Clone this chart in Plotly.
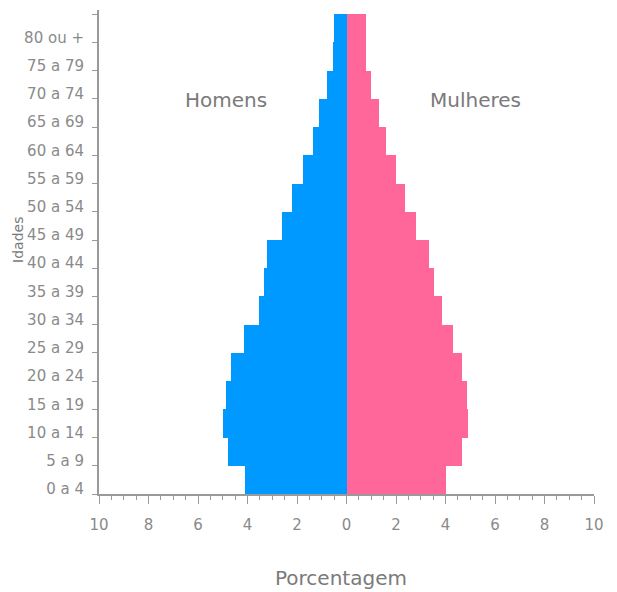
import plotly.graph_objects as go

age_groups = ["0 a 4", "5 a 9", "10 a 14", "15 a 19", "20 a 24", "25 a 29", "30 a 34",
              "35 a 39", "40 a 44", "45 a 49", "50 a 54", "55 a 59", "60 a 64",
              "65 a 69", "70 a 74", "75 a 79", "80 ou +"]
homens = [4.1, 4.8, 5.0, 4.85, 4.65, 4.15, 3.55, 3.35, 3.2, 2.6, 2.2, 1.75, 1.35, 1.1, 0.8, 0.55, 0.5]
mulheres = [4.0, 4.65, 4.9, 4.85, 4.65, 4.3, 3.85, 3.55, 3.35, 2.8, 2.35, 2.0, 1.6, 1.3, 1.0, 0.8, 0.8]
x_tick_values = [-10, -8, -6, -4, -2, 0, 2, 4, 6, 8, 10]
x_tick_labels = ["10", "8", "6", "4", "2", "0", "2", "4", "6", "8", "10"]

pos = [i + 0.5 for i in range(len(age_groups))]
label_pos = [i + 0.18 for i in range(len(age_groups))]

FONT = "DejaVu Sans"
GRAY = "#8a8a8a"
AXIS = "#9a9a9a"

fig = go.Figure()
fig.add_trace(go.Bar(y=pos, x=[-v for v in homens], orientation="h", width=1,
                     marker=dict(color="#0099ff", line=dict(width=0)), name="Homens"))
fig.add_trace(go.Bar(y=pos, x=mulheres, orientation="h", width=1,
                     marker=dict(color="#ff6699", line=dict(width=0)), name="Mulheres"))

fig.update_layout(
    width=617, height=592,
    margin=dict(l=91, r=31, t=2, b=106),
    paper_bgcolor="white", plot_bgcolor="white",
    barmode="overlay", bargap=0, showlegend=False,
    font=dict(family=FONT, color=GRAY),
    xaxis=dict(range=[-10, 10], tickmode="array", tickvals=x_tick_values, ticktext=x_tick_labels,
               ticks="outside", ticklen=8, tickcolor=AXIS, tickwidth=1,
               showline=True, linecolor=AXIS, linewidth=2, showgrid=False, zeroline=False,
               tickfont=dict(size=15, color=GRAY, family=FONT), ticklabelstandoff=8,
               minor=dict(tickmode="linear", tick0=0, dtick=0.5, ticks="outside", ticklen=4,
                          tickcolor=AXIS, showgrid=False)),
    yaxis=dict(range=[0, 17.15], tickmode="array", tickvals=label_pos, ticktext=age_groups,
               ticks="", showline=True, linecolor=AXIS, linewidth=2, showgrid=False, zeroline=False,
               tickfont=dict(size=15, color=GRAY, family=FONT), ticklabelstandoff=10,
               minor=dict(tickmode="linear", tick0=0, dtick=1, ticks="outside", ticklen=5,
                          tickcolor=AXIS, showgrid=False)),
)

fig.add_annotation(x=-4.85, y=13.96, xref="x", yref="y", text="Homens", showarrow=False,
                   xanchor="center", yanchor="middle",
                   font=dict(size=20, color="#7a7a7a", family=FONT))
fig.add_annotation(x=5.2, y=13.96, xref="x", yref="y", text="Mulheres", showarrow=False,
                   xanchor="center", yanchor="middle",
                   font=dict(size=20, color="#7a7a7a", family=FONT))
fig.add_annotation(x=0.489, y=-0.1736, xref="paper", yref="paper", text="Porcentagem",
                   showarrow=False, xanchor="center", yanchor="middle",
                   font=dict(size=20, color="#7a7a7a", family=FONT))
fig.add_annotation(x=-0.1838, y=0.525, xref="paper", yref="paper", text="Idades", textangle=-90,
                   showarrow=False, xanchor="left", yanchor="middle",
                   font=dict(size=14, color="#7a7a7a", family=FONT))

fig.write_html("out.html")
